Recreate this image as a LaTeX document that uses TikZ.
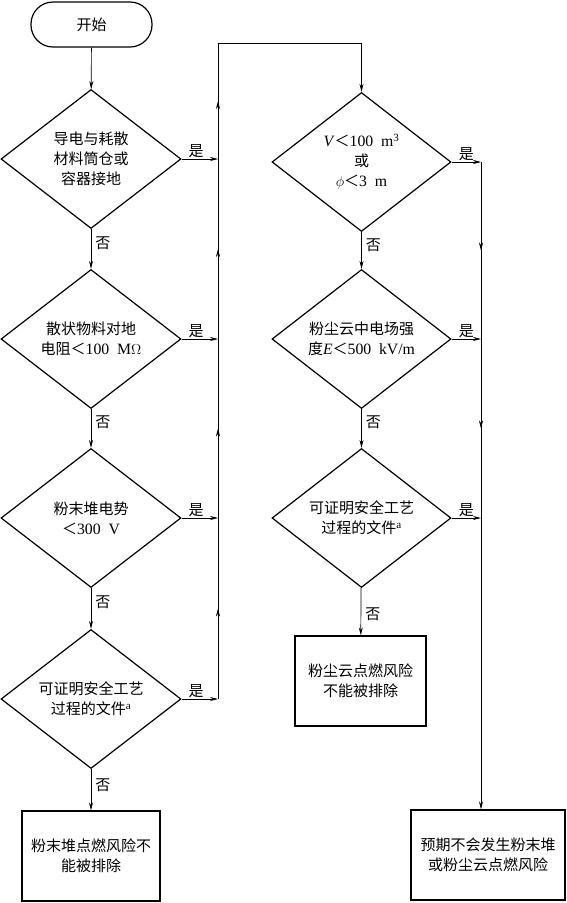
\documentclass[tikz,border=0pt]{standalone}
\usepackage{fontspec}
\setmainfont{Liberation Serif}[Scale=1.05]
\newfontfamily\cjk{Noto Sans CJK SC}
\usetikzlibrary{shapes.geometric,arrows.meta,decorations.markings}
\newcommand{\txt}{\cjk\fontsize{15}{20}\selectfont}
\newcommand{\lat}[1]{{\rmfamily #1}}
\begin{document}
\begin{tikzpicture}[x=1pt,y=-1pt,
  dia/.style={diamond, draw, line width=1.2pt, inner sep=0pt, aspect=1.3,
    minimum width=180pt, minimum height=139pt, align=center, font=\txt},
  boxn/.style={rectangle, draw, line width=1.2pt, minimum height=90pt, align=center, font=\txt},
  conn/.style={line width=0.7pt},
  arr/.style={conn, -{Stealth[length=8pt,width=4pt]}},
  midarr/.style={conn, postaction={decorate}, decoration={markings,
    mark=at position 0.5 with {\arrow{Stealth[length=8pt,width=4pt]}}}},
  lab/.style={font=\txt, inner sep=1pt}]
\useasboundingbox (0,0) rectangle (566,903);

% left column
\node[draw, line width=1.2pt, rounded corners=22pt, minimum width=121pt,
  minimum height=45pt, font=\txt] (s) at (91.5,24.5) {开始};
\node[dia] (d1) at (91,159) {导电与耗散\\材料筒仓或\\容器接地};
\node[dia] (d2) at (91,339) {散状物料对地\\电阻＜\lat{100\hspace{0.5em}M$\Omega$}};
\node[dia] (d3) at (91,518) {粉末堆电势\\＜\lat{300\hspace{0.5em}V}};
\node[dia] (d4) at (91,699) {可证明安全工艺\\过程的文件\lat{\textsuperscript{a}}};
\node[boxn, minimum width=138pt] (b1) at (91,856) {粉末堆点燃风险不\\能被排除};

% middle column
\node[dia, minimum width=179pt] (d5) at (361.5,162) {\lat{\textit{V}}＜\lat{100\hspace{0.5em}m\textsuperscript{3}}\\或\\\lat{$\phi$}＜\lat{3\hspace{0.5em}m}};
\node[dia, minimum width=179pt] (d6) at (361.5,339) {粉尘云中电场强\\度\lat{\textit{E}}＜\lat{500\hspace{0.5em}kV/m}};
\node[dia, minimum width=179pt] (d7) at (361.5,518) {可证明安全工艺\\过程的文件\lat{\textsuperscript{a}}};
\node[boxn, minimum width=131pt] (b2) at (360.5,681) {粉尘云点燃风险\\不能被排除};

% right box
\node[boxn, minimum width=154pt] (b3) at (488,855) {预期不会发生粉末堆\\或粉尘云点燃风险};

\coordinate (Lt) at (218,43);
\coordinate (Mt) at (361.5,43);
\coordinate (R) at (481,162);

% left flow
\draw[arr] (s) -- (d1);
\draw[arr] (d1) -- node[lab, right, pos=0.35, xshift=3pt]{否} (d2);
\draw[arr] (d2) -- node[lab, right, pos=0.35, xshift=3pt]{否} (d3);
\draw[arr] (d3) -- node[lab, right, pos=0.35, xshift=3pt]{否} (d4);
\draw[arr] (d4) -- node[lab, right, pos=0.4, xshift=3pt]{否} (b1);

\draw[arr] (d1.east) -- node[lab, above, pos=0.4]{是} (d1.east -| Lt);
\draw[arr] (d2.east) -- node[lab, above, pos=0.4]{是} (d2.east -| Lt);
\draw[arr] (d3.east) -- node[lab, above, pos=0.4]{是} (d3.east -| Lt);
\draw[arr] (d4.east) -- node[lab, above, pos=0.4]{是} (d4.east -| Lt);

\draw[midarr] (d4.east -| Lt) -- (d3.east -| Lt);
\draw[midarr] (d3.east -| Lt) -- (d2.east -| Lt);
\draw[midarr] (d2.east -| Lt) -- (d1.east -| Lt);
\draw[midarr] (d1.east -| Lt) -- (Lt);
\draw[arr] (Lt) -- (Mt) -- (d5.north);

% middle flow
\draw[arr] (d5) -- node[lab, right, pos=0.35, xshift=3pt]{否} (d6);
\draw[arr] (d6) -- node[lab, right, pos=0.35, xshift=3pt]{否} (d7);
\draw[arr] (d7) -- node[lab, right, pos=0.55, xshift=3pt]{否} (b2);

\draw[arr] (d5.east) -- node[lab, above, pos=0.5]{是} (d5.east -| R);
\draw[arr] (d6.east) -- node[lab, above, pos=0.5]{是} (d6.east -| R);
\draw[arr] (d7.east) -- node[lab, above, pos=0.5]{是} (d7.east -| R);

\draw[midarr] (R) -- (d6.east -| R);
\draw[midarr] (d6.east -| R) -- (d7.east -| R);
\draw[arr] (d7.east -| R) -- (b3.north -| R);
\end{tikzpicture}
\end{document}
